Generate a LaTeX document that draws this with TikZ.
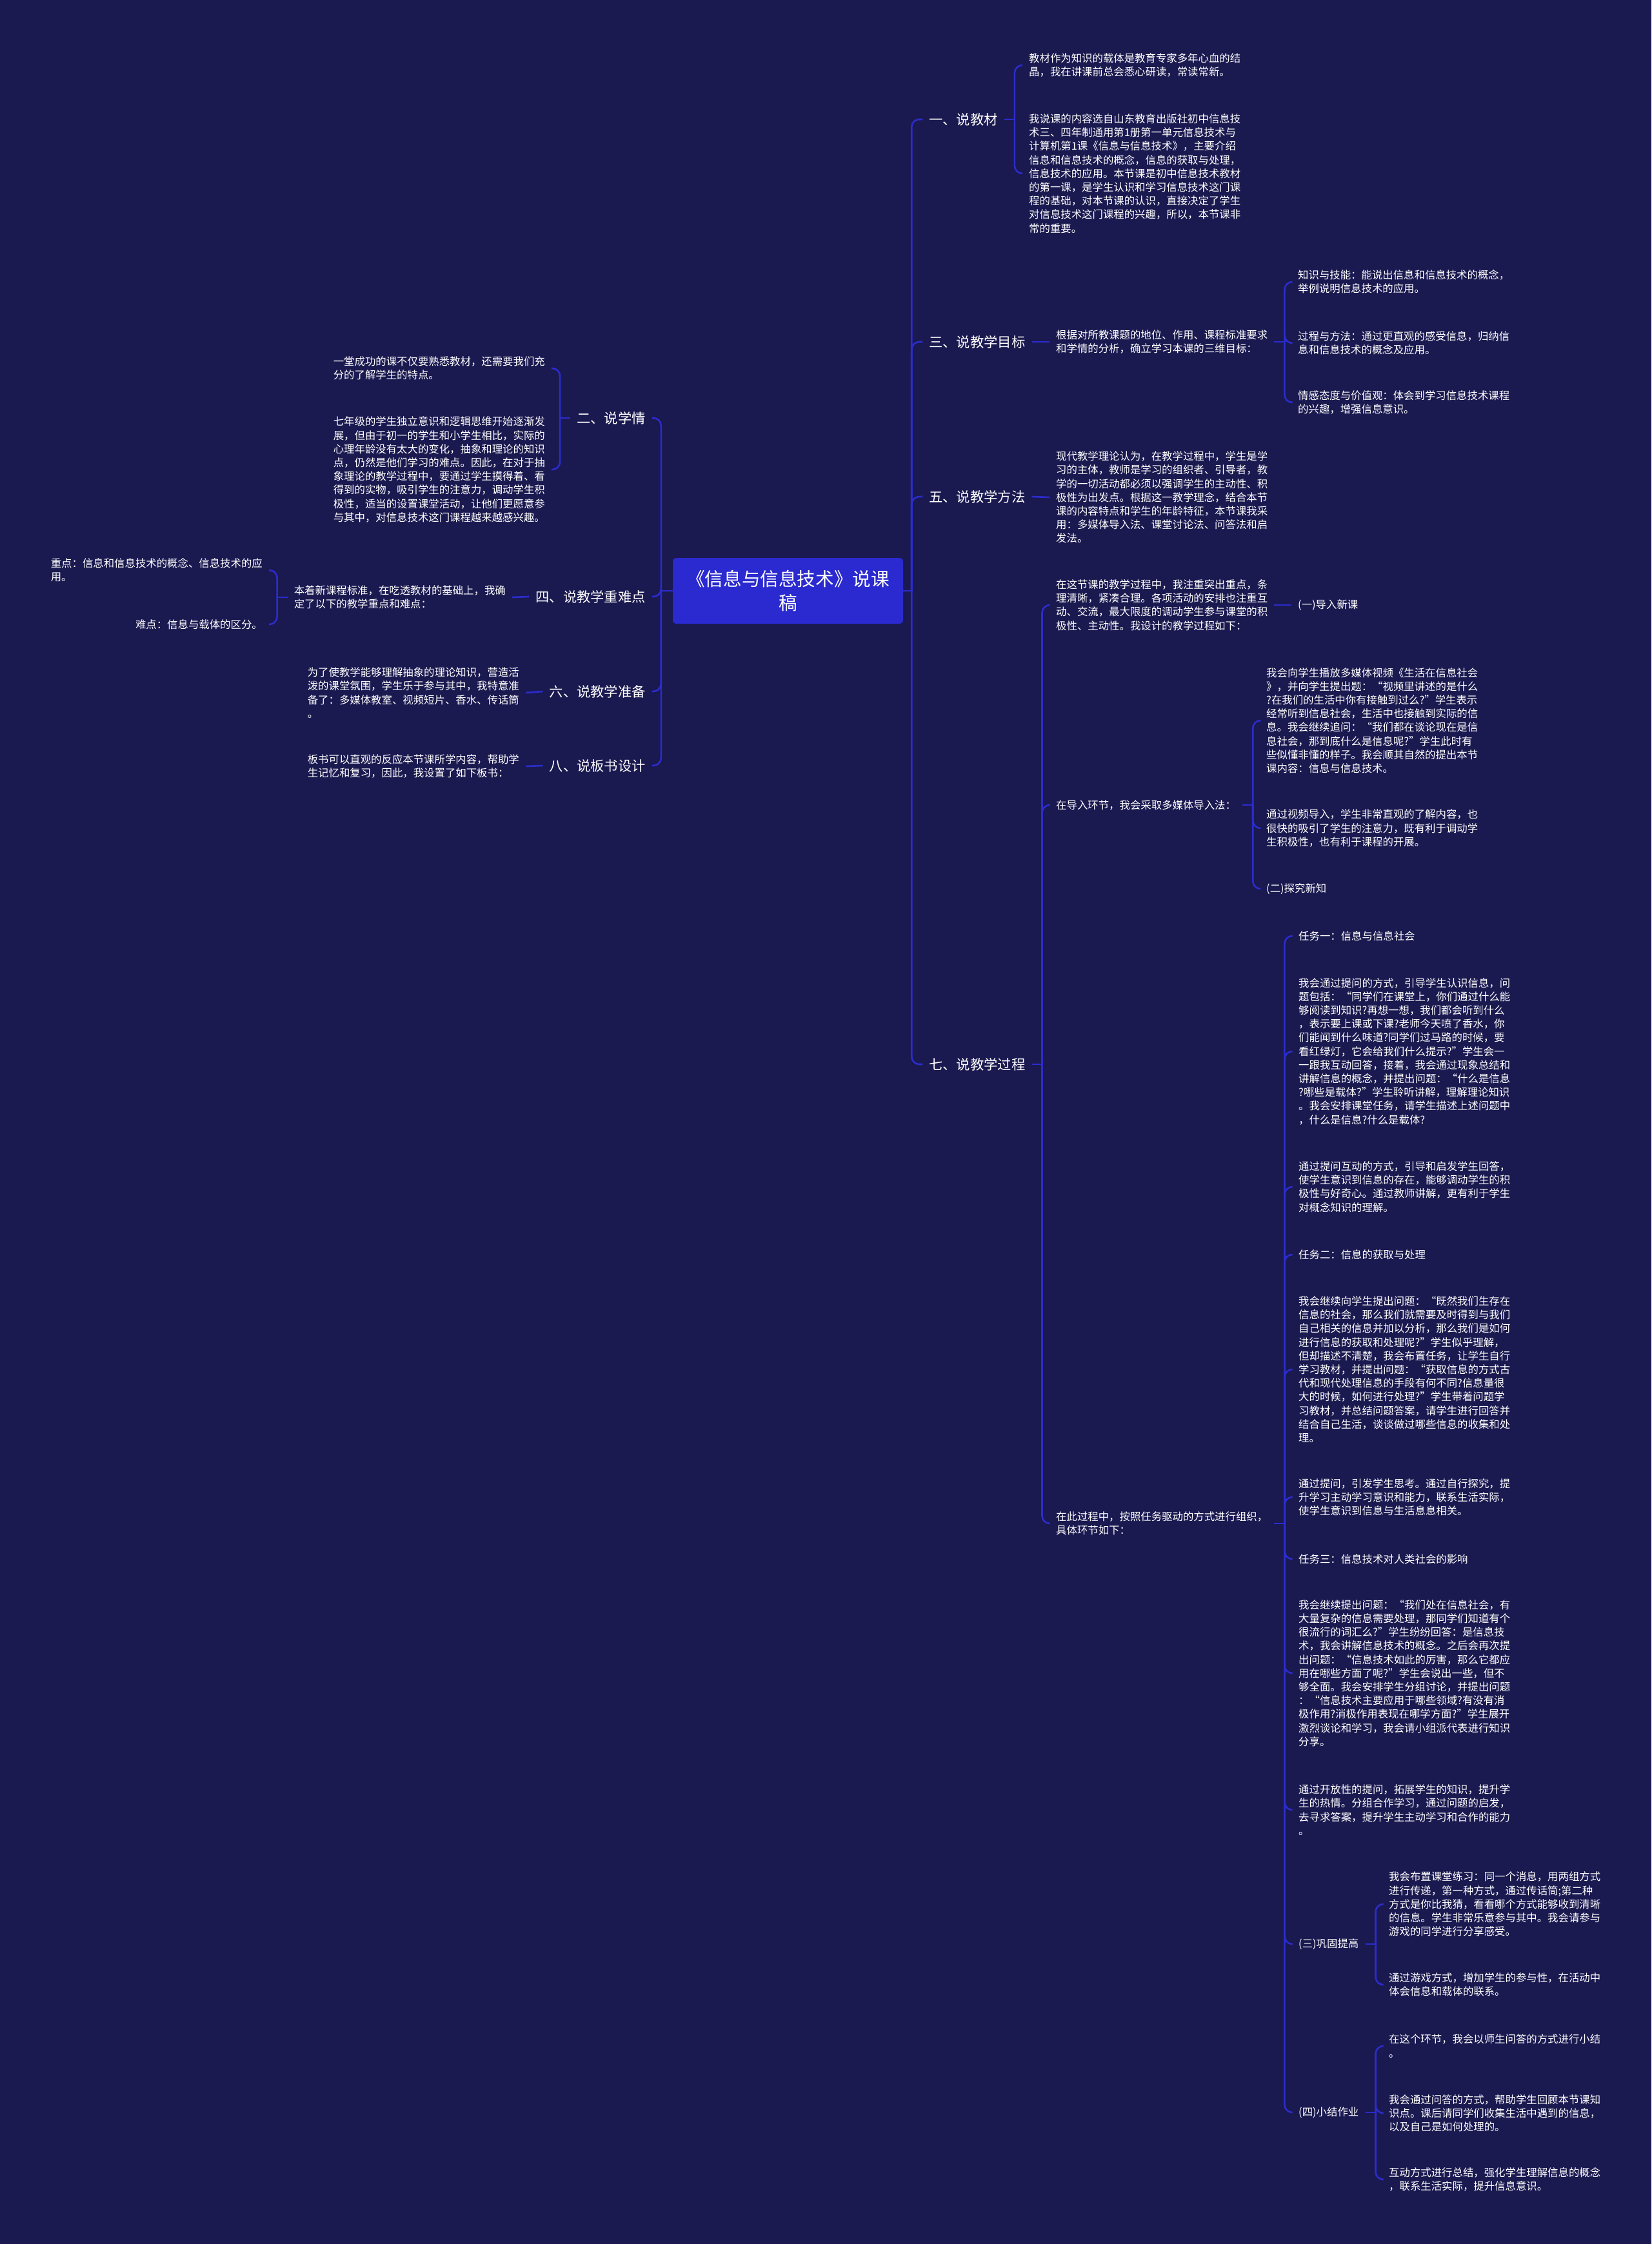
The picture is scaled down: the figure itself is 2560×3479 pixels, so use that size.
\documentclass[tikz,border=0pt]{standalone}
\usepackage{fontspec}
\setmainfont{Noto Sans CJK SC}
\usepackage{xcolor}
\definecolor{mmnavy}{RGB}{26, 25, 80}
\definecolor{mmblue}{RGB}{44, 44, 205}
\definecolor{mmroot}{RGB}{42, 42, 208}

\begin{document}
\begin{tikzpicture}[x=1pt, y=-1pt,
    link/.style={draw=mmblue, line width=2.6pt, rounded corners=12pt},
    leaf/.style={text=white, font=\fontsize{16.4}{21.2}\selectfont, align=left,
                 inner xsep=10pt, inner ysep=0pt},
    rama/.style={text=white, font=\fontsize{21.3}{26}\selectfont,
                 inner xsep=10pt, inner ysep=0pt},
    raiz/.style={fill=mmroot, rounded corners=5pt, text=white, align=center,
                 font=\fontsize{28.6}{37}\selectfont,
                 minimum width=357pt, minimum height=102pt, inner sep=0pt}]

% --- Fondo ---
\fill[mmnavy] (0,0) rectangle (2560,3479);
\useasboundingbox (0,0) rectangle (2560,3479);

% =====================================================
% RAIZ
% =====================================================
\node[raiz] (root) at (1221.5,916) {《信息与信息技术》说课\\稿};

% =====================================================
% LADO DERECHO
% =====================================================
\node[rama, anchor=west] (s1) at (1430,185)  {一、说教材};
\node[rama, anchor=west] (s3) at (1430,530)  {三、说教学目标};
\node[rama, anchor=west] (s5) at (1430,770)  {五、说教学方法};
\node[rama, anchor=west] (s7) at (1430,1650) {七、说教学过程};

% --- 一、说教材 ---
\node[leaf, anchor=west] (a1) at (1585,101) {教材作为知识的载体是教育专家多年心血的结\\晶，我在讲课前总会悉心研读，常读常新。};
\node[leaf, anchor=west] (a2) at (1585,269) {我说课的内容选自山东教育出版社初中信息技\\术三、四年制通用第1册第一单元信息技术与\\计算机第1课《信息与信息技术》，主要介绍\\信息和信息技术的概念，信息的获取与处理，\\信息技术的应用。本节课是初中信息技术教材\\的第一课，是学生认识和学习信息技术这门课\\程的基础，对本节课的认识，直接决定了学生\\对信息技术这门课程的兴趣，所以，本节课非\\常的重要。};

% --- 三、说教学目标 ---
\node[leaf, anchor=west] (b1) at (1627,530) {根据对所教课题的地位、作用、课程标准要求\\和学情的分析，确立学习本课的三维目标：};
\node[leaf, anchor=west] (b2) at (2002,437) {知识与技能：能说出信息和信息技术的概念，\\举例说明信息技术的应用。};
\node[leaf, anchor=west] (b3) at (2002,532) {过程与方法：通过更直观的感受信息，归纳信\\息和信息技术的概念及应用。};
\node[leaf, anchor=west] (b4) at (2002,624) {情感态度与价值观：体会到学习信息技术课程\\的兴趣，增强信息意识。};

% --- 五、说教学方法 ---
\node[leaf, anchor=west] (c1) at (1627,771) {现代教学理论认为，在教学过程中，学生是学\\习的主体，教师是学习的组织者、引导者，教\\学的一切活动都必须以强调学生的主动性、积\\极性为出发点。根据这一教学理念，结合本节\\课的内容特点和学生的年龄特征，本节课我采\\用：多媒体导入法、课堂讨论法、问答法和启\\发法。};

% --- 七、说教学过程 ---
\node[leaf, anchor=west] (d1) at (1627,938)  {在这节课的教学过程中，我注重突出重点，条\\理清晰，紧凑合理。各项活动的安排也注重互\\动、交流，最大限度的调动学生参与课堂的积\\极性、主动性。我设计的教学过程如下：};
\node[leaf, anchor=west] (d2) at (1627,1248) {在导入环节，我会采取多媒体导入法：};
\node[leaf, anchor=west] (d3) at (1627,2362) {在此过程中，按照任务驱动的方式进行组织，\\具体环节如下：};

\node[leaf, anchor=west] (e1) at (2002,938) {(一)导入新课};

\node[leaf, anchor=west] (f1) at (1953,1117) {我会向学生播放多媒体视频《生活在信息社会\\》，并向学生提出题：“视频里讲述的是什么\\?在我们的生活中你有接触到过么?”学生表示\\经常听到信息社会，生活中也接触到实际的信\\息。我会继续追问：“我们都在谈论现在是信\\息社会，那到底什么是信息呢?”学生此时有\\些似懂非懂的样子。我会顺其自然的提出本节\\课内容：信息与信息技术。};
\node[leaf, anchor=west] (f2) at (1953,1284) {通过视频导入，学生非常直观的了解内容，也\\很快的吸引了学生的注意力，既有利于调动学\\生积极性，也有利于课程的开展。};
\node[leaf, anchor=west] (f3) at (1953,1378) {(二)探究新知};

\node[leaf, anchor=west] (g1)  at (2003,1451) {任务一：信息与信息社会};
\node[leaf, anchor=west] (g2)  at (2003,1630) {我会通过提问的方式，引导学生认识信息，问\\题包括：“同学们在课堂上，你们通过什么能\\够阅读到知识?再想一想，我们都会听到什么\\，表示要上课或下课?老师今天喷了香水，你\\们能闻到什么味道?同学们过马路的时候，要\\看红绿灯，它会给我们什么提示?”学生会一\\一跟我互动回答，接着，我会通过现象总结和\\讲解信息的概念，并提出问题：“什么是信息\\?哪些是载体?”学生聆听讲解，理解理论知识\\。我会安排课堂任务，请学生描述上述问题中\\，什么是信息?什么是载体?};
\node[leaf, anchor=west] (g3)  at (2003,1840) {通过提问互动的方式，引导和启发学生回答，\\使学生意识到信息的存在，能够调动学生的积\\极性与好奇心。通过教师讲解，更有利于学生\\对概念知识的理解。};
\node[leaf, anchor=west] (g4)  at (2003,1945) {任务二：信息的获取与处理};
\node[leaf, anchor=west] (g5)  at (2003,2123) {我会继续向学生提出问题：“既然我们生存在\\信息的社会，那么我们就需要及时得到与我们\\自己相关的信息并加以分析，那么我们是如何\\进行信息的获取和处理呢?”学生似乎理解，\\但却描述不清楚，我会布置任务，让学生自行\\学习教材，并提出问题：“获取信息的方式古\\代和现代处理信息的手段有何不同?信息量很\\大的时候，如何进行处理?”学生带着问题学\\习教材，并总结问题答案，请学生进行回答并\\结合自己生活，谈谈做过哪些信息的收集和处\\理。};
\node[leaf, anchor=west] (g6)  at (2003,2321) {通过提问，引发学生思考。通过自行探究，提\\升学习主动学习意识和能力，联系生活实际，\\使学生意识到信息与生活息息相关。};
\node[leaf, anchor=west] (g7)  at (2003,2417) {任务三：信息技术对人类社会的影响};
\node[leaf, anchor=west] (g8)  at (2003,2594) {我会继续提出问题：“我们处在信息社会，有\\大量复杂的信息需要处理，那同学们知道有个\\很流行的词汇么?”学生纷纷回答：是信息技\\术，我会讲解信息技术的概念。之后会再次提\\出问题：“信息技术如此的厉害，那么它都应\\用在哪些方面了呢?”学生会说出一些，但不\\够全面。我会安排学生分组讨论，并提出问题\\：“信息技术主要应用于哪些领域?有没有消\\极作用?消极作用表现在哪学方面?”学生展开\\激烈谈论和学习，我会请小组派代表进行知识\\分享。};
\node[leaf, anchor=west] (g9)  at (2003,2806) {通过开放性的提问，拓展学生的知识，提升学\\生的热情。分组合作学习，通过问题的启发，\\去寻求答案，提升学生主动学习和合作的能力\\。};
\node[leaf, anchor=west] (g10) at (2003,3014) {(三)巩固提高};
\node[leaf, anchor=west] (g11) at (2003,3275) {(四)小结作业};

\node[leaf, anchor=west] (h1) at (2143,2952) {我会布置课堂练习：同一个消息，用两组方式\\进行传递，第一种方式，通过传话筒;第二种\\方式是你比我猜，看看哪个方式能够收到清晰\\的信息。学生非常乐意参与其中。我会请参与\\游戏的同学进行分享感受。};
\node[leaf, anchor=west] (h2) at (2143,3077) {通过游戏方式，增加学生的参与性，在活动中\\体会信息和载体的联系。};

\node[leaf, anchor=west] (i1) at (2143,3172) {在这个环节，我会以师生问答的方式进行小结\\。};
\node[leaf, anchor=west] (i2) at (2143,3276) {我会通过问答的方式，帮助学生回顾本节课知\\识点。课后请同学们收集生活中遇到的信息，\\以及自己是如何处理的。};
\node[leaf, anchor=west] (i3) at (2143,3379) {互动方式进行总结，强化学生理解信息的概念\\，联系生活实际，提升信息意识。};

% =====================================================
% LADO IZQUIERDO
% =====================================================
\node[rama, anchor=east] (t2) at (1011,648)  {二、说学情};
\node[rama, anchor=east] (t4) at (1011,925)  {四、说教学重难点};
\node[rama, anchor=east] (t6) at (1011,1072) {六、说教学准备};
\node[rama, anchor=east] (t8) at (1011,1187) {八、说板书设计};

\node[leaf, anchor=east] (u1) at (855,571) {一堂成功的课不仅要熟悉教材，还需要我们充\\分的了解学生的特点。};
\node[leaf, anchor=east] (u2) at (855,728) {七年级的学生独立意识和逻辑思维开始逐渐发\\展，但由于初一的学生和小学生相比，实际的\\心理年龄没有太大的变化，抽象和理论的知识\\点，仍然是他们学习的难点。因此，在对于抽\\象理论的教学过程中，要通过学生摸得着、看\\得到的实物，吸引学生的注意力，调动学生积\\极性，适当的设置课堂活动，让他们更愿意参\\与其中，对信息技术这门课程越来越感兴趣。};

\node[leaf, anchor=east] (v1) at (794,926) {本着新课程标准，在吃透教材的基础上，我确\\定了以下的教学重点和难点：};
\node[leaf, anchor=east] (w1) at (417,884) {重点：信息和信息技术的概念、信息技术的应\\用。};
\node[leaf, anchor=east] (w2) at (417,968) {难点：信息与载体的区分。};

\node[leaf, anchor=east] (x1) at (815,1074) {为了使教学能够理解抽象的理论知识，营造活\\泼的课堂氛围，学生乐于参与其中，我特意准\\备了：多媒体教室、视频短片、香水、传话筒\\。};
\node[leaf, anchor=east] (x2) at (815,1188) {板书可以直观的反应本节课所学内容，帮助学\\生记忆和复习，因此，我设置了如下板书：};

% =====================================================
% CONEXIONES
% =====================================================
\draw[link] (root.east) -- ++(13,0) coordinate (root-r);
\draw[link] (root.west) -- ++(-18,0) coordinate (root-l);
\foreach \n in {s1,s3,s5,s7} \draw[link] (root-r) |- (\n.west);
\foreach \n in {t2,t4,t6,t8} \draw[link] (root-l) |- (\n.east);

% --- derecha ---
\draw[link] (s1.east) -- ++(16,0) coordinate (s1-b);
\foreach \n in {a1,a2} \draw[link] (s1-b) |- (\n.west);

\draw[link] (s3.west -| s3.east) -- (b1.west);
\draw[link] (b1.east) -- ++(16,0) coordinate (b1-b);
\foreach \n in {b2,b3,b4} \draw[link] (b1-b) |- (\n.west);

\draw[link] (s5.east) -- (c1.west);

\draw[link] (s7.east) -- ++(16,0) coordinate (s7-b);
\foreach \n in {d1,d2,d3} \draw[link] (s7-b) |- (\n.west);

\draw[link] (d1.east) -- (e1.west);
\draw[link] (d2.east) -- ++(16,0) coordinate (d2-b);
\foreach \n in {f1,f2,f3} \draw[link] (d2-b) |- (\n.west);
\draw[link] (d3.east) -- ++(16,0) coordinate (d3-b);
\foreach \n in {g1,g2,g3,g4,g5,g6,g7,g8,g9,g10,g11} \draw[link] (d3-b) |- (\n.west);

\draw[link] (g10.east) -- ++(16,0) coordinate (g10-b);
\foreach \n in {h1,h2} \draw[link] (g10-b) |- (\n.west);
\draw[link] (g11.east) -- ++(16,0) coordinate (g11-b);
\foreach \n in {i1,i2,i3} \draw[link] (g11-b) |- (\n.west);

% --- izquierda ---
\draw[link] (t2.west) -- ++(-16,0) coordinate (t2-b);
\foreach \n in {u1,u2} \draw[link] (t2-b) |- (\n.east);

\draw[link] (t4.west) -- (v1.east);
\draw[link] (v1.west) -- ++(-16,0) coordinate (v1-b);
\foreach \n in {w1,w2} \draw[link] (v1-b) |- (\n.east);

\draw[link] (t6.west) -- (x1.east);
\draw[link] (t8.west) -- (x2.east);

\end{tikzpicture}
\end{document}
